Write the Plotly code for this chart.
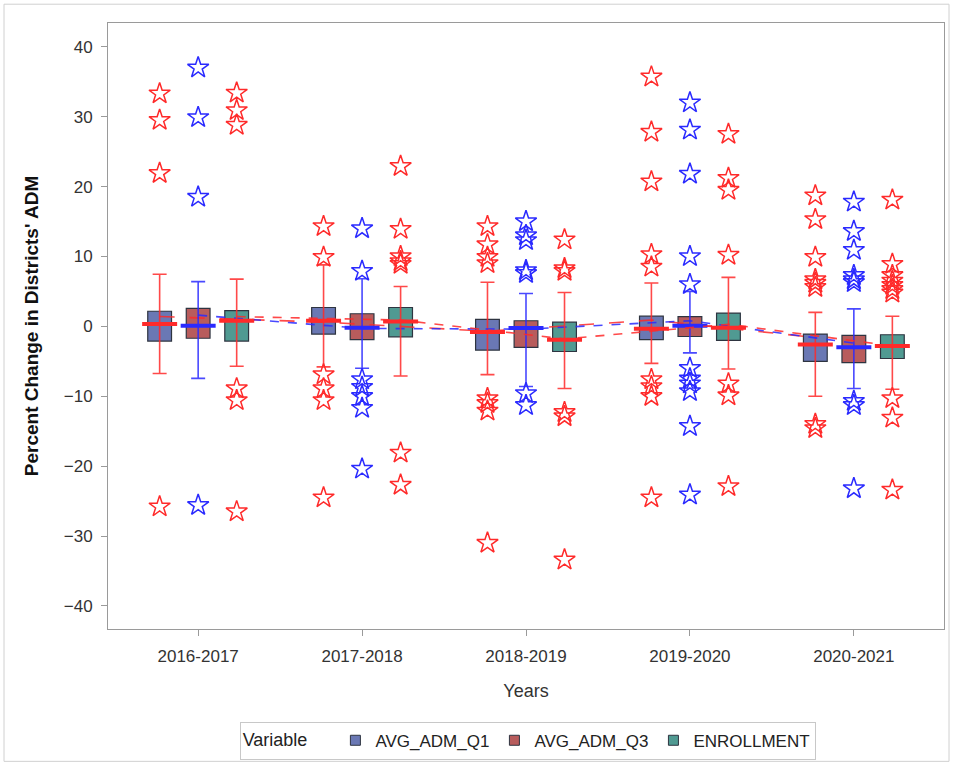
import plotly.graph_objects as go

years = ["2016-2017", "2017-2018", "2018-2019", "2019-2020", "2020-2021"]
series = ["AVG_ADM_Q1", "AVG_ADM_Q3", "ENROLLMENT"]

# box statistics per series (one value per year)
q1 = {
    "AVG_ADM_Q1": [-2.1, -1.1, -3.4, -1.9, -5.0],
    "AVG_ADM_Q3": [-1.7, -1.9, -3.0, -1.45, -5.2],
    "ENROLLMENT": [-2.1, -1.5, -3.6, -2.0, -4.6],
}
median = {
    "AVG_ADM_Q1": [0.35, 0.8, -0.8, -0.35, -2.6],
    "AVG_ADM_Q3": [0.1, -0.2, -0.25, 0.1, -3.0],
    "ENROLLMENT": [0.8, 0.7, -1.9, -0.2, -2.8],
}
q3 = {
    "AVG_ADM_Q1": [2.16, 2.7, 1.0, 1.45, -1.1],
    "AVG_ADM_Q3": [2.58, 1.8, 0.8, 1.4, -1.3],
    "ENROLLMENT": [2.25, 2.7, 0.6, 1.9, -1.2],
}
whisker_lo = {
    "AVG_ADM_Q1": [-6.75, -5.8, -6.9, -5.3, -10.0],
    "AVG_ADM_Q3": [-7.45, -6.0, -8.6, -3.8, -8.9],
    "ENROLLMENT": [-5.7, -7.1, -8.9, -6.1, -9.0],
}
whisker_hi = {
    "AVG_ADM_Q1": [7.45, 8.8, 6.3, 6.2, 2.0],
    "AVG_ADM_Q3": [6.4, 6.8, 4.7, 5.0, 2.5],
    "ENROLLMENT": [6.75, 5.7, 4.85, 7.0, 1.45],
}
mean = {
    "AVG_ADM_Q1": [1.4, 0.6, -0.7, 0.9, -1.6],
    "AVG_ADM_Q3": [1.6, -0.3, -0.4, 0.8, -2.4],
    "ENROLLMENT": [1.4, 0.9, -1.8, 0.3, -2.8],
}
outliers = {
    "AVG_ADM_Q1": [
        [33.3, 29.5, 21.9, -25.8],
        [14.3, 9.9, -6.9, -8.9, -10.6, -24.5],
        [14.3, 11.7, 9.9, 9.0, -10.3, -11.0, -12.1, -31.0],
        [35.7, 27.8, 20.7, 10.3, 8.5, -7.6, -8.6, -10.0, -24.5],
        [18.7, 15.3, 9.9, 6.7, 6.2, 5.6, -14.0, -14.6],
    ],
    "AVG_ADM_Q3": [
        [37.0, 29.9, 18.5, -25.6],
        [14.0, 7.9, -7.6, -8.7, -10.0, -11.7, -20.4],
        [15.0, 13.0, 12.3, 8.0, 7.6, -9.6, -11.3],
        [32.0, 28.1, 21.8, 10.0, 6.0, -6.0, -7.5, -8.2, -9.3, -14.3, -24.1],
        [17.8, 13.6, 10.9, 7.3, 6.7, 6.3, -10.7, -11.3, -23.2],
    ],
    "ENROLLMENT": [
        [33.4, 30.9, 28.8, -8.9, -10.6, -26.5],
        [22.9, 13.9, 10.0, 9.3, 8.9, -18.1, -22.7],
        [12.4, 8.3, 7.9, -12.3, -12.9, -33.4],
        [27.5, 21.2, 19.5, 10.2, -8.2, -9.9, -22.9],
        [18.1, 8.9, 7.3, 6.5, 5.9, 5.3, 4.8, -10.3, -13.1, -23.4],
    ],
}

fill = {"AVG_ADM_Q1": "#6a78b4", "AVG_ADM_Q3": "#b85c5c", "ENROLLMENT": "#509a92"}
accent = {"AVG_ADM_Q1": "#ff2a2a", "AVG_ADM_Q3": "#2a2aff", "ENROLLMENT": "#ff2a2a"}
dash = {"AVG_ADM_Q1": "longdash", "AVG_ADM_Q3": "dash", "ENROLLMENT": "dash"}
offset = {"AVG_ADM_Q1": -0.235, "AVG_ADM_Q3": 0.0, "ENROLLMENT": 0.235}

fig = go.Figure()
idx = list(range(len(years)))

for s in series:
    xs = [i + offset[s] for i in idx]
    fig.add_trace(go.Bar(
        x=xs, y=[b - a for a, b in zip(q1[s], q3[s])], base=q1[s], width=0.145,
        marker=dict(color=fill[s], line=dict(color="#2e3440", width=1.2)),
        showlegend=False, hoverinfo="skip"))

for s in series:
    xs = [i + offset[s] for i in idx]
    # mean connect line
    fig.add_trace(go.Scatter(
        x=xs, y=mean[s], mode="lines",
        line=dict(color=accent[s], width=1.6, dash=dash[s]),
        opacity=0.85, showlegend=False, hoverinfo="skip"))
    # whiskers
    fig.add_trace(go.Scatter(
        x=xs, y=median[s], mode="markers", marker=dict(size=1, opacity=0),
        error_y=dict(type="data", symmetric=False,
                     array=[h - m for h, m in zip(whisker_hi[s], median[s])],
                     arrayminus=[m - l for m, l in zip(median[s], whisker_lo[s])],
                     color=accent[s], thickness=1.6, width=7),
        opacity=0.85, showlegend=False, hoverinfo="skip"))
    # median bars
    fig.add_trace(go.Scatter(
        x=xs, y=median[s], mode="markers",
        marker=dict(symbol="line-ew-open", size=25, color=accent[s],
                    line=dict(color=accent[s], width=4)),
        showlegend=False, hoverinfo="skip"))
    # outliers
    ox, oy = [], []
    for i in idx:
        for v in outliers[s][i]:
            ox.append(i + offset[s])
            oy.append(v)
    fig.add_trace(go.Scatter(
        x=ox, y=oy, mode="markers",
        marker=dict(symbol="star-open", size=16, color=accent[s], line=dict(width=1.5, color=accent[s])),
        showlegend=False, hoverinfo="skip"))

for s in series:
    fig.add_trace(go.Scatter(
        x=[None], y=[None], mode="markers", name=s,
        marker=dict(symbol="square", size=10, color=fill[s], line=dict(color="#2e3440", width=1))))

axis_common = dict(showline=True, linecolor="#9a9a9a", linewidth=1, mirror=True,
                   ticks="outside", tickcolor="#9a9a9a", ticklen=6, showgrid=False,
                   zeroline=False, tickfont=dict(size=17, color="#333333"))

fig.update_layout(
    width=953, height=769,
    margin=dict(l=108, r=9, t=23, b=137),
    paper_bgcolor="white", plot_bgcolor="white",
    font=dict(family="Liberation Sans, Arial, sans-serif", color="#333333"),
    barmode="overlay",
    xaxis=dict(range=[-0.55, 4.55], tickvals=idx, ticktext=years, ticklabelstandoff=6,
               title=dict(text="Years", font=dict(size=18, color="#333333"), standoff=18),
               **axis_common),
    yaxis=dict(range=[-43.3, 43.4], tickvals=[-40, -30, -20, -10, 0, 10, 20, 30, 40],
               ticklabelstandoff=5,
               title=dict(text="<b>Percent Change in Districts' ADM</b>", font=dict(size=19, color="#111111"), standoff=20),
               **axis_common),
    legend=dict(orientation="h", x=0.502, xanchor="center", y=-0.153, yanchor="top",
                bordercolor="#c8c8c8", borderwidth=1, font=dict(size=17, color="#222222"),
                title=dict(text="Variable    ", font=dict(size=18, color="#222222")),
                itemwidth=30, traceorder="normal"),
    shapes=[dict(type="rect", xref="paper", yref="paper",
                 x0=-0.1244, x1=1.006, y0=-0.2184, y1=1.031,
                 line=dict(color="#d0d0d0", width=1), fillcolor="rgba(0,0,0,0)", layer="below")],
)

fig.write_html("out.html")
